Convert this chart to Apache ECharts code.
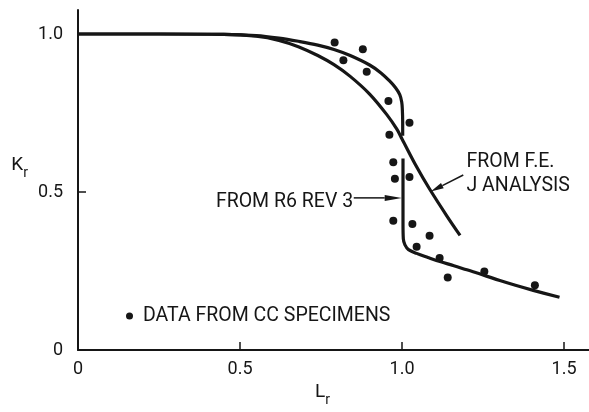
<!DOCTYPE html>
<html>
<head>
<meta charset="utf-8">
<script src="https://cdn.jsdelivr.net/npm/echarts@6/dist/echarts.min.js"></script>
<style>
html,body{margin:0;padding:0;background:#fff;}
#c{width:589px;height:412px;}
</style>
</head>
<body>
<div id="c"></div>
<script>
// ---- data ----
const xTicks = [0, 0.5, 1.0, 1.5];
const xTickLabels = ['0', '0.5', '1.0', '1.5'];
const yTicks = [0, 0.5, 1.0];
const yTickLabels = ['0', '0.5', '1.0'];

const specimenL = [0.792, 0.879, 0.819, 0.891, 0.958, 1.023, 0.961, 0.973, 0.978, 1.023, 0.973, 1.032, 1.085, 1.045, 1.116, 1.141, 1.254, 1.410];
const specimenK = [0.973, 0.952, 0.917, 0.881, 0.788, 0.719, 0.681, 0.594, 0.542, 0.548, 0.409, 0.399, 0.362, 0.327, 0.291, 0.230, 0.249, 0.205];

const r6L = [0, 0.25, 0.45, 0.55, 0.62, 0.68, 0.74, 0.79, 0.84, 0.90, 0.935, 0.96, 0.98, 0.993, 0.999, 1.001, 1.002, 1.002, null,
             1.003, 1.003, 1.003, 1.004, 1.009, 1.02, 1.045, 1.08, 1.117, 1.16, 1.2, 1.25, 1.302, 1.35, 1.405, 1.486];
const r6K = [1.0, 1.0, 0.999, 0.995, 0.987, 0.977, 0.965, 0.951, 0.932, 0.902, 0.877, 0.853, 0.830, 0.808, 0.785, 0.76, 0.72, 0.678, null,
             0.606, 0.50, 0.40, 0.352, 0.333, 0.318, 0.306, 0.293, 0.280, 0.267, 0.254, 0.238, 0.220, 0.205, 0.189, 0.167];

const feL = [0, 0.25, 0.45, 0.55, 0.62, 0.68, 0.74, 0.79, 0.84, 0.90, 0.953, 0.984, 1.0, 1.045, 1.086, 1.138, 1.179];
const feK = [1.0, 1.0, 0.999, 0.993, 0.980, 0.960, 0.932, 0.903, 0.866, 0.810, 0.745, 0.699, 0.668, 0.580, 0.508, 0.425, 0.363];

const legendLabel = 'DATA FROM CC SPECIMENS';
const r6Label = 'FROM R6 REV 3';
const feLabel1 = 'FROM F.E.';
const feLabel2 = 'J ANALYSIS';

// annotation anchors in data units
const r6ArrowFrom = [0.851, 0.4816];
const r6ArrowTo = [0.999, 0.4816];
const r6TextAt = [0.849, 0.469];
const feArrowFrom = [1.189, 0.554];
const feArrowTo = [1.0886, 0.502];
const feText1At = [1.199, 0.595];
const feText2At = [1.199, 0.519];

// ---- chart ----
const FONT = 'Roboto, "Noto Sans", sans-serif';
const INK = '#161616';

function pairs(xs, ys) {
  return xs.map((x, i) => (x === null ? [null, null] : [x, ys[i]]));
}
function label(ticks, labels) {
  return v => { const i = ticks.findIndex(t => Math.abs(t - v) < 1e-9); return i >= 0 ? labels[i] : ''; };
}
const subRich = {
  m: { fontFamily: FONT, fontSize: 19, color: INK, lineHeight: 24, verticalAlign: 'top' },
  s: { fontFamily: FONT, fontSize: 14, color: INK, lineHeight: 24, verticalAlign: 'bottom', padding: [9, 0, 0, 0] }
};

const chart = echarts.init(document.getElementById('c'), null, { renderer: 'canvas' });
chart.setOption({
  animation: false,
  backgroundColor: '#fff',
  grid: { left: 78, right: 0, top: 10, bottom: 55, containLabel: false },
  legend: {
    left: 126, top: 306, padding: 0,
    icon: 'circle', itemWidth: 7, itemHeight: 7,
    data: [legendLabel],
    textStyle: { fontFamily: FONT, fontSize: 19.5, color: INK, padding: [0, 0, 0, 5] },
    selectedMode: false
  },
  xAxis: {
    type: 'value', min: 0, max: 1.577,
    axisLine: { show: true, onZero: false, lineStyle: { color: INK, width: 2 } },
    axisTick: { show: true, inside: true, length: 8, customValues: xTicks, lineStyle: { color: INK, width: 1.5 } },
    axisLabel: { customValues: xTicks, formatter: label(xTicks, xTickLabels), margin: 10, fontFamily: FONT, fontSize: 18, color: INK },
    splitLine: { show: false },
    name: '{m|L}{s|r}', nameLocation: 'middle', nameGap: 28,
    nameTextStyle: { padding: [0, 22, 0, 0], rich: subRich }
  },
  yAxis: {
    type: 'value', min: 0, max: 1.076,
    axisLine: { show: true, onZero: false, lineStyle: { color: INK, width: 2 } },
    axisTick: { show: true, inside: true, length: 8, customValues: yTicks, lineStyle: { color: INK, width: 1.5 } },
    axisLabel: { customValues: yTicks, formatter: label(yTicks, yTickLabels), margin: 15, fontFamily: FONT, fontSize: 18, color: INK },
    splitLine: { show: false },
    name: '{m|K}{s|r}', nameLocation: 'middle', nameRotate: 0, nameGap: 50,
    nameTextStyle: { align: 'right', padding: [0, 0, 24, 0], rich: subRich }
  },
  series: [
    {
      name: 'R6 Rev 3', type: 'line', data: pairs(r6L, r6K), showSymbol: false, smooth: 0.35,
      connectNulls: false, lineStyle: { color: INK, width: 3.2 }, itemStyle: { color: INK }, silent: true
    },
    {
      name: 'F.E. J analysis', type: 'line', data: pairs(feL, feK), showSymbol: false, smooth: 0.35,
      lineStyle: { color: INK, width: 3.2 }, itemStyle: { color: INK }, silent: true
    },
    {
      name: legendLabel, type: 'scatter', data: pairs(specimenL, specimenK), symbol: 'circle', symbolSize: 8,
      itemStyle: { color: INK, opacity: 1 }, silent: true
    }
  ]
});

function px(p) { return chart.convertToPixel({ gridIndex: 0 }, p); }
function arrow(from, to, len, half) {
  const a = px(from), b = px(to);
  const dx = b[0] - a[0], dy = b[1] - a[1];
  const d = Math.hypot(dx, dy), ux = dx / d, uy = dy / d;
  const bx = b[0] - ux * len, by = b[1] - uy * len;
  return [
    { type: 'line', shape: { x1: a[0], y1: a[1], x2: bx, y2: by }, style: { stroke: INK, lineWidth: 1.5 }, silent: true },
    { type: 'polygon', shape: { points: [[b[0], b[1]], [bx - uy * half, by + ux * half], [bx + uy * half, by - ux * half]] }, style: { fill: INK }, silent: true }
  ];
}
function txt(at, s, align) {
  const p = px(at);
  return { type: 'text', x: p[0], y: p[1], style: { text: s, fill: INK, font: '19.5px ' + FONT, align: align, verticalAlign: 'middle' }, silent: true };
}
chart.setOption({
  graphic: [].concat(
    arrow(r6ArrowFrom, r6ArrowTo, 17, 3),
    arrow(feArrowFrom, feArrowTo, 13, 3),
    [txt(r6TextAt, r6Label, 'right'), txt(feText1At, feLabel1, 'left'), txt(feText2At, feLabel2, 'left')]
  )
});
</script>
</body>
</html>
